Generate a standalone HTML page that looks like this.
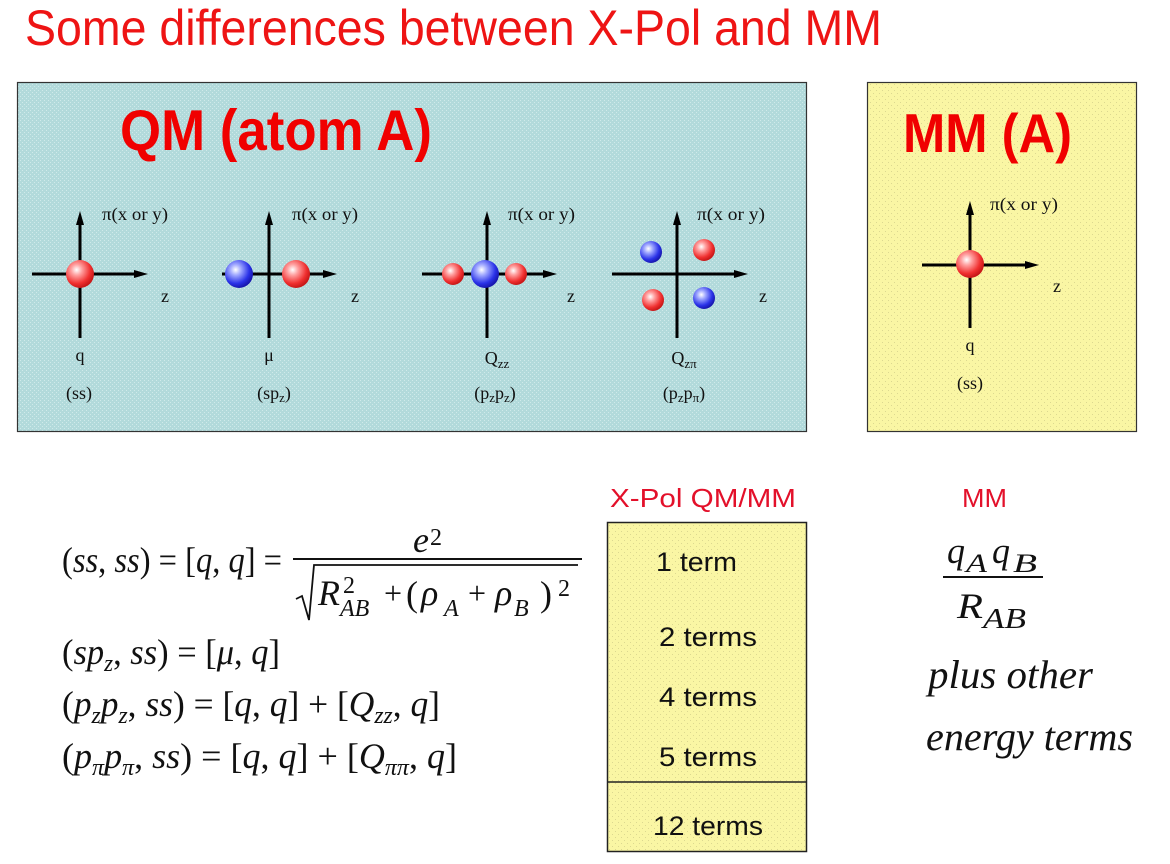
<!DOCTYPE html>
<html>
<head>
<meta charset="utf-8">
<style>
  html,body{margin:0;padding:0;background:#fff;}
  svg{display:block;}
  .sans{font-family:"Liberation Sans", Arial, sans-serif;}
  .serif{font-family:"Liberation Serif", "Times New Roman", serif;}
</style>
</head>
<body>
<svg width="1170" height="864" viewBox="0 0 1170 864" xmlns="http://www.w3.org/2000/svg">
  <defs>
    <pattern id="dotC" width="4" height="4" patternUnits="userSpaceOnUse">
      <rect width="4" height="4" fill="#b2dadb"/>
      <rect x="0" y="0" width="1" height="1" fill="#cfeaea"/>
      <rect x="2" y="2" width="1" height="1" fill="#cfeaea"/>
    </pattern>
    <pattern id="dotY" width="6" height="6" patternUnits="userSpaceOnUse">
      <rect width="6" height="6" fill="#faf6a4"/>
      <rect x="0" y="0" width="1" height="1" fill="#dcd890"/>
      <rect x="3" y="3" width="1" height="1" fill="#dcd890"/>
    </pattern>
    <radialGradient id="gR" cx="38%" cy="35%" r="65%">
      <stop offset="0" stop-color="#ffffff"/>
      <stop offset="0.3" stop-color="#ffa0a0"/>
      <stop offset="0.75" stop-color="#f03030"/>
      <stop offset="1" stop-color="#c81818"/>
    </radialGradient>
    <radialGradient id="gB" cx="38%" cy="35%" r="65%">
      <stop offset="0" stop-color="#ffffff"/>
      <stop offset="0.3" stop-color="#a0a8ff"/>
      <stop offset="0.75" stop-color="#2a32e8"/>
      <stop offset="1" stop-color="#1818b0"/>
    </radialGradient>
  </defs>

  <!-- Title -->
  <text class="sans" transform="translate(25,45) scale(1,1.08)" x="0" y="0" font-size="46" fill="#ee1414" textLength="857" lengthAdjust="spacingAndGlyphs">Some differences  between X-Pol and MM</text>

  <!-- QM box -->
  <rect x="17.5" y="82.5" width="789" height="349" fill="url(#dotC)" stroke="#333" stroke-width="1.2"/>
  <text class="sans" transform="translate(120,150) scale(1,1.1)" font-size="52" font-weight="bold" fill="#f00000" textLength="312" lengthAdjust="spacingAndGlyphs">QM (atom A)</text>

  <!-- MM box -->
  <rect x="867.5" y="82.5" width="269" height="349" fill="url(#dotY)" stroke="#333" stroke-width="1.2"/>
  <text class="sans" transform="translate(903,152) scale(1,1.1)" font-size="50" font-weight="bold" fill="#f00000" textLength="169" lengthAdjust="spacingAndGlyphs">MM (A)</text>

  <g stroke="#000" stroke-width="3" fill="none">
    <line x1="80" y1="338" x2="80" y2="222"/>
    <line x1="32" y1="274" x2="137" y2="274"/>
    <line x1="269" y1="338" x2="269" y2="222"/>
    <line x1="222" y1="274" x2="326" y2="274"/>
    <line x1="487" y1="338" x2="487" y2="222"/>
    <line x1="422" y1="274" x2="546" y2="274"/>
    <line x1="677" y1="338" x2="677" y2="222"/>
    <line x1="612" y1="274" x2="737" y2="274"/>
    <line x1="970" y1="328" x2="970" y2="212"/>
    <line x1="922" y1="265" x2="1028" y2="265"/>
  </g>
  <g fill="#000">
    <polygon points="76,225 80,211 84,225"/>
    <polygon points="134,270 148,274 134,278"/>
    <polygon points="265,225 269,211 273,225"/>
    <polygon points="323,270 337,274 323,278"/>
    <polygon points="483,225 487,211 491,225"/>
    <polygon points="543,270 557,274 543,278"/>
    <polygon points="673,225 677,211 681,225"/>
    <polygon points="734,270 748,274 734,278"/>
    <polygon points="966,215 970,201 974,215"/>
    <polygon points="1025,261 1039,265 1025,269"/>
  </g>

  <!-- spheres -->
  <circle cx="80" cy="274" r="14" fill="url(#gR)"/>
  <circle cx="239" cy="274" r="14" fill="url(#gB)"/>
  <circle cx="296" cy="274" r="14" fill="url(#gR)"/>
  <circle cx="453" cy="274" r="11" fill="url(#gR)"/>
  <circle cx="516" cy="274" r="11" fill="url(#gR)"/>
  <circle cx="485" cy="274" r="14" fill="url(#gB)"/>
  <circle cx="651" cy="252" r="11" fill="url(#gB)"/>
  <circle cx="704" cy="250" r="11" fill="url(#gR)"/>
  <circle cx="653" cy="300" r="11" fill="url(#gR)"/>
  <circle cx="704" cy="298" r="11" fill="url(#gB)"/>
  <circle cx="970" cy="264" r="14" fill="url(#gR)"/>

  <!-- diagram labels -->
  <g class="serif" font-size="18" fill="#111">
    <text x="102" y="220" textLength="66" lengthAdjust="spacingAndGlyphs">π(x or y)</text>
    <text x="292" y="220" textLength="66" lengthAdjust="spacingAndGlyphs">π(x or y)</text>
    <text x="508" y="220" textLength="67" lengthAdjust="spacingAndGlyphs">π(x or y)</text>
    <text x="697" y="220" textLength="68" lengthAdjust="spacingAndGlyphs">π(x or y)</text>
    <text x="990" y="210" textLength="68" lengthAdjust="spacingAndGlyphs">π(x or y)</text>

    <text x="161" y="302">z</text>
    <text x="351" y="302">z</text>
    <text x="567" y="302">z</text>
    <text x="759" y="302">z</text>
    <text x="1053" y="292">z</text>

    <text x="80" y="361" text-anchor="middle">q</text>
    <text x="269" y="361" text-anchor="middle">μ</text>
    <text x="497" y="364" text-anchor="middle">Q<tspan font-size="13" dy="4">zz</tspan></text>
    <text x="684" y="364" text-anchor="middle">Q<tspan font-size="13" dy="4">zπ</tspan></text>
    <text x="970" y="351" text-anchor="middle">q</text>

    <text x="79" y="399" text-anchor="middle">(ss)</text>
    <text x="274" y="399" text-anchor="middle">(sp<tspan font-size="13" dy="3">z</tspan><tspan dy="-3">)</tspan></text>
    <text x="495" y="399" text-anchor="middle">(p<tspan font-size="13" dy="3">z</tspan><tspan dy="-3">p</tspan><tspan font-size="13" dy="3">z</tspan><tspan dy="-3">)</tspan></text>
    <text x="684" y="399" text-anchor="middle">(p<tspan font-size="13" dy="3">z</tspan><tspan dy="-3">p</tspan><tspan font-size="13" dy="3">π</tspan><tspan dy="-3">)</tspan></text>
    <text x="970" y="389" text-anchor="middle">(ss)</text>
  </g>

  <!-- Left formulas -->
  <g class="serif" fill="#111">
    <text x="62" y="572" font-size="36" textLength="220" lengthAdjust="spacingAndGlyphs">(<tspan font-style="italic">ss</tspan>, <tspan font-style="italic">ss</tspan>) = [<tspan font-style="italic">q</tspan>, <tspan font-style="italic">q</tspan>] =</text>

    <!-- fraction -->
    <text x="413" y="552" font-size="36" font-style="italic">e</text>
    <text x="430" y="545" font-size="24">2</text>
    <line x1="293" y1="559" x2="582" y2="559" stroke="#111" stroke-width="2"/>
    <polyline points="296,599 302,596 309,620 314,565 578,565" fill="none" stroke="#111" stroke-width="1.8"/>
    <text x="318" y="605" font-size="36" font-style="italic">R</text>
    <text x="343" y="593" font-size="24">2</text>
    <text x="340" y="616" font-size="24" font-style="italic">AB</text>
    <text x="384" y="604" font-size="32">+</text>
    <text x="406" y="606" font-size="36">(</text>
    <text x="421" y="605" font-size="36" font-style="italic">ρ</text>
    <text x="444" y="616" font-size="24" font-style="italic">A</text>
    <text x="468" y="604" font-size="32">+</text>
    <text x="495" y="605" font-size="36" font-style="italic">ρ</text>
    <text x="514" y="616" font-size="24" font-style="italic">B</text>
    <text x="540" y="606" font-size="36">)</text>
    <text x="558" y="596" font-size="24">2</text>

    <text x="62" y="664" font-size="36" textLength="218" lengthAdjust="spacingAndGlyphs">(<tspan font-style="italic">sp</tspan><tspan font-style="italic" font-size="24" dy="7">z</tspan><tspan dy="-7">, </tspan><tspan font-style="italic">ss</tspan>) = [<tspan font-style="italic">μ</tspan>, <tspan font-style="italic">q</tspan>]</text>

    <text x="62" y="716" font-size="36" textLength="378" lengthAdjust="spacingAndGlyphs">(<tspan font-style="italic">p</tspan><tspan font-style="italic" font-size="24" dy="7">z</tspan><tspan font-style="italic" dy="-7">p</tspan><tspan font-style="italic" font-size="24" dy="7">z</tspan><tspan dy="-7">, </tspan><tspan font-style="italic">ss</tspan>) = [<tspan font-style="italic">q</tspan>, <tspan font-style="italic">q</tspan>] + [<tspan font-style="italic">Q</tspan><tspan font-style="italic" font-size="24" dy="7">zz</tspan><tspan dy="-7">, </tspan><tspan font-style="italic">q</tspan>]</text>

    <text x="62" y="768" font-size="36" textLength="395" lengthAdjust="spacingAndGlyphs">(<tspan font-style="italic">p</tspan><tspan font-style="italic" font-size="24" dy="7">π</tspan><tspan font-style="italic" dy="-7">p</tspan><tspan font-style="italic" font-size="24" dy="7">π</tspan><tspan dy="-7">, </tspan><tspan font-style="italic">ss</tspan>) = [<tspan font-style="italic">q</tspan>, <tspan font-style="italic">q</tspan>] + [<tspan font-style="italic">Q</tspan><tspan font-style="italic" font-size="24" dy="7">ππ</tspan><tspan dy="-7">, </tspan><tspan font-style="italic">q</tspan>]</text>
  </g>

  <!-- X-Pol QM/MM column -->
  <text class="sans" x="610" y="507" font-size="26" fill="#e3102a" textLength="186" lengthAdjust="spacingAndGlyphs">X-Pol QM/MM</text>
  <text class="sans" x="962" y="507" font-size="26" fill="#e3102a" textLength="45" lengthAdjust="spacingAndGlyphs">MM</text>

  <rect x="607.5" y="522.5" width="199" height="329" fill="url(#dotY)" stroke="#222" stroke-width="1.5"/>
  <line x1="607" y1="782" x2="807" y2="782" stroke="#222" stroke-width="1.5"/>
  <g class="sans" font-size="27" fill="#111">
    <text x="656" y="571" textLength="81" lengthAdjust="spacingAndGlyphs">1 term</text>
    <text x="659" y="646" textLength="98" lengthAdjust="spacingAndGlyphs">2 terms</text>
    <text x="659" y="706" textLength="98" lengthAdjust="spacingAndGlyphs">4 terms</text>
    <text x="659" y="766" textLength="98" lengthAdjust="spacingAndGlyphs">5 terms</text>
    <text x="653" y="835" textLength="110" lengthAdjust="spacingAndGlyphs">12 terms</text>
  </g>

  <!-- MM right formula -->
  <g class="serif" fill="#111" font-style="italic">
    <text x="947" y="563" font-size="36">q</text>
    <text x="966" y="572" font-size="26" textLength="21" lengthAdjust="spacingAndGlyphs">A</text>
    <text x="992" y="563" font-size="36">q</text>
    <text x="1013" y="572" font-size="26" textLength="24" lengthAdjust="spacingAndGlyphs">B</text>
    <line x1="943" y1="577" x2="1043" y2="577" stroke="#111" stroke-width="2"/>
    <text x="957" y="618" font-size="36" textLength="26" lengthAdjust="spacingAndGlyphs">R</text>
    <text x="983" y="628" font-size="28" textLength="43" lengthAdjust="spacingAndGlyphs">AB</text>
    <text x="928" y="688" font-size="40" textLength="165" lengthAdjust="spacingAndGlyphs">plus other</text>
    <text x="926" y="750" font-size="40" textLength="207" lengthAdjust="spacingAndGlyphs">energy terms</text>
  </g>
</svg>
</body>
</html>
